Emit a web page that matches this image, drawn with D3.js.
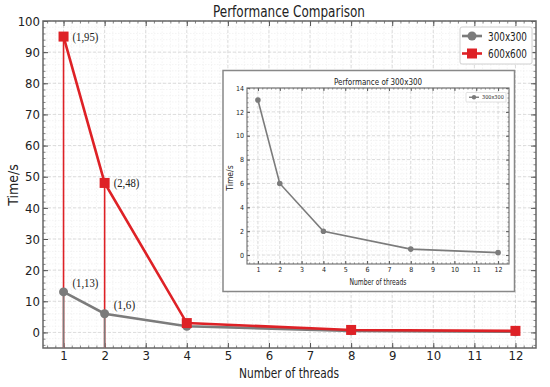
<!DOCTYPE html>
<html>
<head>
<meta charset="utf-8">
<script src="https://cdn.jsdelivr.net/npm/d3@7"></script>
<style>
  body { margin: 0; background: #fff; }
  svg { display: block; }
  text { font-family: "DejaVu Sans Condensed", "DejaVu Sans", sans-serif; fill: #222; }
</style>
</head>
<body>
<div id="chart"></div>
<script>
// data
const threads = [1, 2, 4, 8, 12];
const time300 = [13, 6, 2, 0.5, 0.2];
const time600 = [95, 48, 3, 0.8, 0.5];
const seriesNames = ['300x300', '600x600'];
const xTicks = [1, 2, 3, 4, 5, 6, 7, 8, 9, 10, 11, 12];
const yTicks = [0, 10, 20, 30, 40, 50, 60, 70, 80, 90, 100];
const insetYTicks = [0, 2, 4, 6, 8, 10, 12, 14];
// labelled points: [series, index, label]
const notes = [
  ['600x600', 0, '(1,95)'],
  ['600x600', 1, '(2,48)'],
  ['300x300', 0, '(1,13)'],
  ['300x300', 1, '(1,6)']
];

const width = 550, height = 387;
const gray = '#7b7b7b', red = '#de2126';

const svg = d3.select('#chart').append('svg')
  .attr('width', width)
  .attr('height', height);

function frameAxes(g, x, y, opt) {
  const [x0, x1] = x.range(), [y0, y1] = y.range();
  // minor grid
  const xm = d3.range(Math.ceil(x.domain()[0] / opt.xMinor) * opt.xMinor, x.domain()[1], opt.xMinor);
  const ym = d3.range(Math.ceil(y.domain()[0] / opt.yMinor) * opt.yMinor, y.domain()[1] + 1e-9, opt.yMinor);
  g.append('g').selectAll('line').data(xm).enter().append('line')
    .attr('x1', d => x(d)).attr('x2', d => x(d)).attr('y1', y0).attr('y2', y1)
    .attr('stroke', '#ececec').attr('stroke-width', 0.6).attr('stroke-dasharray', '1.5,1.5');
  g.append('g').selectAll('line').data(ym).enter().append('line')
    .attr('y1', d => y(d)).attr('y2', d => y(d)).attr('x1', x0).attr('x2', x1)
    .attr('stroke', '#ececec').attr('stroke-width', 0.6).attr('stroke-dasharray', '1.5,1.5');
  // major grid
  g.append('g').selectAll('line').data(opt.xTicks).enter().append('line')
    .attr('x1', d => x(d)).attr('x2', d => x(d)).attr('y1', y0).attr('y2', y1)
    .attr('stroke', '#d4d4d4').attr('stroke-width', 0.8).attr('stroke-dasharray', '3,2');
  g.append('g').selectAll('line').data(opt.yTicks).enter().append('line')
    .attr('y1', d => y(d)).attr('y2', d => y(d)).attr('x1', x0).attr('x2', x1)
    .attr('stroke', '#d4d4d4').attr('stroke-width', 0.8).attr('stroke-dasharray', '3,2');

  const axes = [
    d3.axisBottom(x).tickValues(opt.xTicks), d3.axisTop(x).tickValues(opt.xTicks).tickFormat(''),
    d3.axisLeft(y).tickValues(opt.yTicks), d3.axisRight(y).tickValues(opt.yTicks).tickFormat('')
  ];
  const minors = [
    d3.axisBottom(x).tickValues(xm), d3.axisTop(x).tickValues(xm),
    d3.axisLeft(y).tickValues(ym), d3.axisRight(y).tickValues(ym)
  ];
  const pos = [[0, y0], [0, y1], [x0, 0], [x1, 0]];
  axes.forEach((a, i) => {
    const ag = g.append('g').attr('transform', `translate(${pos[i]})`)
      .call(a.tickSizeInner(-opt.major).tickSizeOuter(0).tickPadding(opt.pad));
    ag.select('.domain').remove();
    ag.selectAll('line').attr('stroke', '#555');
    ag.selectAll('text').style('font-size', opt.font + 'px').attr('fill', '#222')
      .style('font-family', '"DejaVu Sans Condensed", "DejaVu Sans", sans-serif');
    const mg = g.append('g').attr('transform', `translate(${pos[i]})`)
      .call(minors[i].tickSizeInner(-opt.minor).tickSizeOuter(0).tickFormat(''));
    mg.select('.domain').remove();
    mg.selectAll('line').attr('stroke', '#555').attr('stroke-width', 0.7);
  });
  g.append('rect').attr('x', x0).attr('y', y1).attr('width', x1 - x0).attr('height', y0 - y1)
    .attr('fill', 'none').attr('stroke', opt.frame).attr('stroke-width', opt.frameW);
}

// ---- main chart ----
const x = d3.scaleLinear().domain([0.5, 12.5]).range([43, 536]);
const y = d3.scaleLinear().domain([-5, 100]).range([348, 21]);
const main = svg.append('g');

frameAxes(main, x, y, {
  xTicks, yTicks, xMinor: 0.2, yMinor: 2, major: 5, minor: 2.5, pad: 3, font: 13,
  frame: '#666', frameW: 1.5
});

const series = [
  { name: seriesNames[0], values: time300, color: gray },
  { name: seriesNames[1], values: time600, color: red }
];

// vertical drop lines for first two points (red first, gray over it)
[series[1], series[0]].forEach(s => {
  main.append('g').selectAll('line').data(threads.slice(0, 2)).enter().append('line')
    .attr('x1', d => x(d)).attr('x2', d => x(d))
    .attr('y1', y(-5)).attr('y2', (d, i) => y(s.values[i]))
    .attr('stroke', s.color).attr('stroke-width', 1.6);
});

const line = d3.line().x(d => x(d[0])).y(d => y(d[1]));
series.forEach(s => {
  const pts = threads.map((t, i) => [t, s.values[i]]);
  main.append('path').datum(pts).attr('d', line)
    .attr('fill', 'none').attr('stroke', s.color).attr('stroke-width', 2.6);
  if (s.name === '300x300') {
    main.append('g').selectAll('circle').data(pts).enter().append('circle')
      .attr('cx', d => x(d[0])).attr('cy', d => y(d[1])).attr('r', 4.5).attr('fill', s.color);
  } else {
    main.append('g').selectAll('rect').data(pts).enter().append('rect')
      .attr('x', d => x(d[0]) - 5).attr('y', d => y(d[1]) - 5)
      .attr('width', 10).attr('height', 10).attr('fill', s.color);
  }
});

notes.forEach(([name, i, label]) => {
  const s = series.find(d => d.name === name);
  main.append('text')
    .attr('x', x(threads[i]) + 9)
    .attr('y', y(s.values[i]) + 4.5)
    .attr('dy', name === '300x300' ? -9 : 0)
    .style('font-family', '"Liberation Serif", "Times New Roman", serif')
    .style('font-size', '13.5px')
    .attr('textLength', label.length * 4.3)
    .attr('lengthAdjust', 'spacingAndGlyphs')
    .attr('fill', name === '600x600' ? red : '#6a6a6a')
    .text(label);
});

// titles
svg.append('text').attr('x', 289).attr('y', 17).attr('text-anchor', 'middle')
  .style('font-size', '15px').attr('textLength', 152).attr('lengthAdjust', 'spacingAndGlyphs')
  .text('Performance Comparison');
svg.append('text').attr('x', 289).attr('y', 378).attr('text-anchor', 'middle')
  .style('font-size', '14px').attr('textLength', 100).attr('lengthAdjust', 'spacingAndGlyphs')
  .text('Number of threads');
svg.append('text').attr('transform', 'translate(18,185) rotate(-90)').attr('text-anchor', 'middle')
  .style('font-size', '14px').text('Time/s');

// legend
const leg = svg.append('g').attr('transform', 'translate(460,27)');
leg.append('rect').attr('width', 72).attr('height', 37).attr('rx', 2)
  .attr('fill', '#fff').attr('fill-opacity', 0.9).attr('stroke', '#d0d0d0');
series.forEach((s, i) => {
  const row = leg.append('g').attr('transform', `translate(0,${9 + i * 17.5})`);
  row.append('line').attr('x1', 2).attr('x2', 22).attr('stroke', s.color).attr('stroke-width', 2.6);
  if (i === 0) row.append('circle').attr('cx', 12).attr('r', 4.5).attr('fill', s.color);
  else row.append('rect').attr('x', 7).attr('y', -5).attr('width', 10).attr('height', 10).attr('fill', s.color);
  row.append('text').attr('x', 28).attr('dy', '0.35em').style('font-size', '13px')
    .attr('textLength', 39).attr('lengthAdjust', 'spacingAndGlyphs').text(s.name);
});

// ---- inset ----
const inset = svg.append('g');
inset.append('rect').attr('x', 223).attr('y', 70.5).attr('width', 291.5).attr('height', 221)
  .attr('fill', '#fff').attr('stroke', '#888').attr('stroke-width', 1.5);

const ix = d3.scaleLinear().domain([0.5, 12.5]).range([247, 509]);
const iy = d3.scaleLinear().domain([-0.75, 14]).range([264, 88]);

frameAxes(inset, ix, iy, {
  xTicks, yTicks: insetYTicks, xMinor: 0.2, yMinor: 0.4, major: 3, minor: 1.5, pad: 3, font: 7,
  frame: '#777', frameW: 1.2
});

const ipts = threads.map((t, i) => [t, time300[i]]);
inset.append('path').datum(ipts)
  .attr('d', d3.line().x(d => ix(d[0])).y(d => iy(d[1])))
  .attr('fill', 'none').attr('stroke', gray).attr('stroke-width', 1.6);
inset.append('g').selectAll('circle').data(ipts).enter().append('circle')
  .attr('cx', d => ix(d[0])).attr('cy', d => iy(d[1])).attr('r', 2.8).attr('fill', gray);

inset.append('text').attr('x', 378).attr('y', 84.5).attr('text-anchor', 'middle')
  .style('font-size', '9.5px').attr('textLength', 88).attr('lengthAdjust', 'spacingAndGlyphs')
  .text('Performance of 300x300');
inset.append('text').attr('x', 378).attr('y', 284.5).attr('text-anchor', 'middle')
  .style('font-size', '9px').attr('textLength', 57).attr('lengthAdjust', 'spacingAndGlyphs')
  .text('Number of threads');
inset.append('text').attr('transform', 'translate(233,178) rotate(-90)').attr('text-anchor', 'middle')
  .style('font-size', '8.5px').text('Time/s');

const ileg = inset.append('g').attr('transform', 'translate(466,92.5)');
ileg.append('rect').attr('width', 40).attr('height', 9.5).attr('rx', 1)
  .attr('fill', '#fff').attr('stroke', '#d6d6d6').attr('stroke-width', 0.7);
ileg.append('line').attr('x1', 3).attr('x2', 13).attr('y1', 4.75).attr('y2', 4.75)
  .attr('stroke', gray).attr('stroke-width', 1.4);
ileg.append('circle').attr('cx', 8).attr('cy', 4.75).attr('r', 2.2).attr('fill', gray);
ileg.append('text').attr('x', 16).attr('y', 4.75).attr('dy', '0.35em')
  .style('font-size', '5.5px').text(seriesNames[0]);
</script>
</body>
</html>
